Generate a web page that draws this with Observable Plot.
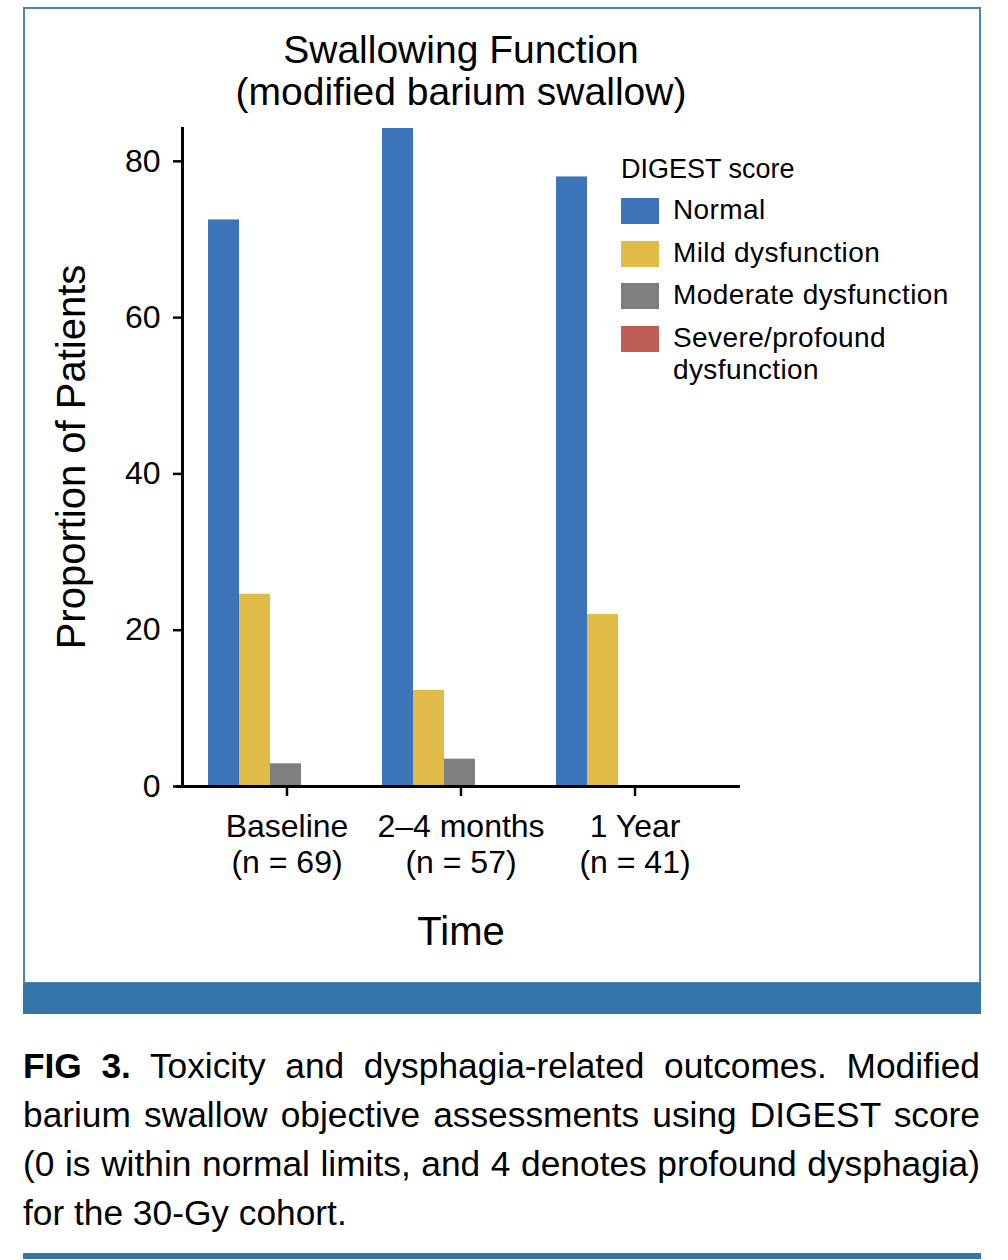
<!DOCTYPE html>
<html>
<head>
<meta charset="utf-8">
<script src="https://cdn.jsdelivr.net/npm/d3@7"></script>
<script src="https://cdn.jsdelivr.net/npm/@observablehq/plot@0.6"></script>
<style>
  html, body { margin: 0; padding: 0; background: #fff; }
  #page { position: relative; width: 1008px; height: 1260px; font-family: "Liberation Sans", Arial, sans-serif; color: #000; overflow: hidden; }
  .abs { position: absolute; white-space: nowrap; }
  #box { left: 23px; top: 7px; width: 958px; height: 977px; border: 2px solid #4a85b9; box-sizing: border-box; }
  #band { left: 23px; top: 983px; width: 958px; height: 31px; background: #3576aa; }
  #rule { left: 23px; top: 1253px; width: 958px; height: 6px; background: #3576aa; }
  #title { left: 0; width: 922px; top: 29px; text-align: center; font-size: 39px; line-height: 42px; }
  #ylabel { left: 71px; top: 457px; width: 500px; text-align: center; font-size: 40px; line-height: 40px; transform: translate(-50%, -50%) rotate(-90deg); }
  #xlabel { left: 0; width: 922px; top: 911px; text-align: center; font-size: 40px; line-height: 40px; }
  #caption { left: 23px; top: 1041px; width: 957px; font-size: 35.3px; }
  #caption .line { height: 49px; line-height: 49px; text-align: justify; text-align-last: justify; white-space: nowrap; }
  #caption .line.last { text-align-last: left; }
  .lg-title { font-size: 27px; line-height: 26px; }
  .lg-sw { width: 38px; height: 26px; }
  .lg-lab { font-size: 28px; line-height: 32px; letter-spacing: 0.4px; }
</style>
</head>
<body>
<div id="page">
  <div id="box" class="abs"></div>
  <div id="band" class="abs"></div>
  <div id="rule" class="abs"></div>
  <div id="chart" class="abs" style="left:0;top:0;"></div>
  <div id="title" class="abs"></div>
  <div id="ylabel" class="abs"></div>
  <div id="xlabel" class="abs"></div>
  <div id="legend"></div>
  <div id="caption" class="abs"></div>
</div>
<script>
// ---- data ----
const titleLines = ["Swallowing Function", "(modified barium swallow)"];
const yLabel = "Proportion of Patients";
const xLabel = "Time";
const times = ["Baseline", "2–4 months", "1 Year"];
const nLabels = ["(n = 69)", "(n = 57)", "(n = 41)"];
const legendTitle = "DIGEST score";
const categories = ["Normal", "Mild dysfunction", "Moderate dysfunction", "Severe/profound dysfunction"];
const legendLabels = [["Normal"], ["Mild dysfunction"], ["Moderate dysfunction"], ["Severe/profound", "dysfunction"]];
const colors = ["#3b74b8", "#e1bb48", "#7f7f80", "#bd5f56"];
const normal = [72.5, 84.2, 78.0];
const mild = [24.6, 12.3, 22.0];
const moderate = [2.9, 3.5, 0];
const severe = [0, 0, 0];
const yTicks = [0, 20, 40, 60, 80];
const captionBold = "FIG 3.";
const captionLines = [
  " Toxicity and dysphagia-related outcomes. Modified",
  "barium swallow objective assessments using DIGEST score",
  "(0 is within normal limits, and 4 denotes profound dysphagia)",
  "for the 30-Gy cohort."
];

// ---- table ----
const series = [normal, mild, moderate, severe];
const rows = [];
times.forEach((t, i) => {
  categories.forEach((c, j) => rows.push({time: t, category: c, value: series[j][i]}));
});
const yMax = d3.max(rows, d => d.value);

const chart = Plot.plot({
  width: 1008,
  height: 960,
  marginLeft: 182,
  marginRight: 269,
  marginTop: 128,
  marginBottom: 174,
  style: {fontFamily: "'Liberation Sans', Arial, sans-serif", color: "#000", background: "transparent"},
  fx: {domain: times, paddingInner: 0.1, paddingOuter: 0.15, label: null},
  x: {domain: categories, paddingInner: 0, paddingOuter: 0.5, align: 0, axis: null},
  y: {domain: [0, yMax], label: null},
  color: {domain: categories, range: colors},
  marks: [
    Plot.barY(rows, {fx: "time", x: "category", y: "value", fill: "category"}),
    Plot.frame({anchor: "left", facet: "super", strokeWidth: 3, stroke: "#000", insetLeft: -26}),
    Plot.frame({anchor: "bottom", facet: "super", strokeWidth: 3, stroke: "#000", insetLeft: -31, insetRight: -25}),
    Plot.axisY({ticks: yTicks, tickSize: 9, tickPadding: 13, fontSize: 32, strokeWidth: 2.5, label: null, dx: -26}),
    Plot.axisFx({anchor: "bottom", tickSize: 10, tickPadding: 15, fontSize: 32, lineHeight: 1.13, strokeWidth: 2.5,
      tickFormat: d => d + "\n" + nLabels[times.indexOf(d)], label: null})
  ]
});
document.getElementById("chart").appendChild(chart);

// ---- text ----
document.getElementById("title").innerHTML = titleLines.join("<br>");
document.getElementById("ylabel").textContent = yLabel;
document.getElementById("xlabel").textContent = xLabel;

const cap = document.getElementById("caption");
captionLines.forEach((l, i) => {
  const div = document.createElement("div");
  div.className = "line" + (i === captionLines.length - 1 ? " last" : "");
  if (i === 0) {
    const b = document.createElement("b");
    b.textContent = captionBold;
    div.appendChild(b);
  }
  div.appendChild(document.createTextNode(l));
  cap.appendChild(div);
});

// ---- legend ----
const lg = document.getElementById("legend");
const lt = document.createElement("div");
lt.className = "abs lg-title";
lt.style.left = "621px"; lt.style.top = "156px";
lt.textContent = legendTitle;
lg.appendChild(lt);
categories.forEach((c, j) => {
  const top = 198 + j * 42.6;
  const sw = document.createElement("div");
  sw.className = "abs lg-sw";
  sw.style.left = "621px"; sw.style.top = top + "px"; sw.style.background = colors[j];
  lg.appendChild(sw);
  const lab = document.createElement("div");
  lab.className = "abs lg-lab";
  lab.style.left = "673px"; lab.style.top = (top - 4) + "px";
  lab.innerHTML = legendLabels[j].join("<br>");
  lg.appendChild(lab);
});
</script>
</body>
</html>
